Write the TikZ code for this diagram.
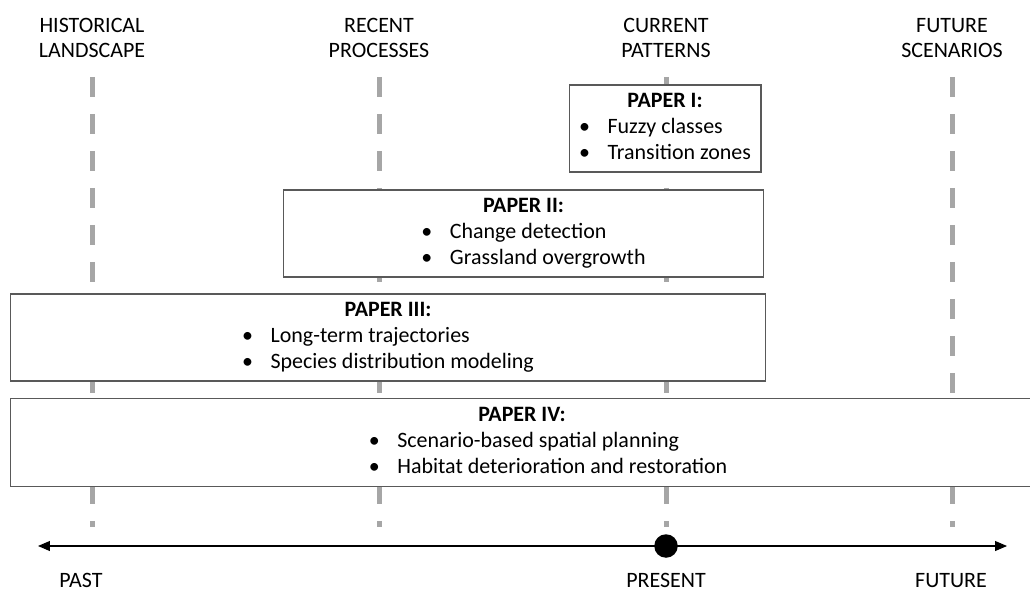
\documentclass[tikz,border=0pt]{standalone}
\usepackage{fontspec}
\setmainfont{Carlito}
\usetikzlibrary{arrows.meta}
\definecolor{eragray}{HTML}{A6A6A6}
\definecolor{boxgray}{HTML}{595959}
\tikzset{timetip/.tip={Triangle[length=0.24cm,width=0.2cm]}}
% title of a paper and its two topics, the topics can be pushed right by #1
\newcommand{\papertext}[4][0cm]{%
  \begin{tabular}{@{}c@{}}
    \textbf{#2}\\
    \hspace*{#1}\begin{tabular}[t]{@{}l@{}}
      \makebox[1.3em][l]{•}#3\\
      \makebox[1.3em][l]{•}#4
    \end{tabular}
  \end{tabular}}
\begin{document}
\begin{tikzpicture}[x=0.02cm,y=-0.02cm,
  font=\fontsize{12.5}{14.7}\selectfont,
  era/.style={draw=eragray,line width=0.1cm,dash pattern=on 0.4cm off 0.34cm},
  paper/.style={draw=boxgray,line width=0.6pt,fill=white,inner sep=0pt,minimum height=1.74cm},
  heading/.style={align=center},
  timelabel/.style={anchor=base,inner sep=0pt}]
\useasboundingbox (0,0) rectangle (1030,591);
% time periods
\foreach \x/\n/\la/\lb in {92/hist/HISTORICAL/LANDSCAPE,379/recent/RECENT/PROCESSES,666/current/CURRENT/PATTERNS,952/scen/FUTURE/SCENARIOS}{
  \node[heading] (\n) at (\x,38) {\la\\\lb};
  \draw[era] (\x,77) -- (\x,527);
}
% papers
\node[paper,minimum width=3.84cm] (paperI) at (665,128.5) {\papertext{PAPER I:}{Fuzzy classes}{Transition zones}};
\node[paper,minimum width=9.62cm] (paperII) at (523.5,233.5) {\papertext[0.4cm]{PAPER II:}{Change detection}{Grassland overgrowth}};
\node[paper,minimum width=15.12cm] (paperIII) at (388,337.5) {\papertext{PAPER III:}{Long-term trajectories}{Species distribution modeling}};
\node[paper,minimum width=20.48cm,minimum height=1.76cm] (paperIV) at (522,442.5) {\papertext[1.04cm]{PAPER IV:}{Scenario-based spatial planning}{Habitat deterioration and restoration}};
% time axis
\coordinate (past) at (38,546);
\coordinate (future) at (1007,546);
\draw[timetip-timetip,line width=0.6pt] (past) -- (future);
\node[circle,fill=black,minimum size=0.47cm,inner sep=0pt] (now) at (666,546) {};
\node[timelabel] (pastlabel) at (81,587) {PAST};
\node[timelabel] (nowlabel) at (666,587) {PRESENT};
\node[timelabel] (futurelabel) at (951,587) {FUTURE};
\end{tikzpicture}
\end{document}
